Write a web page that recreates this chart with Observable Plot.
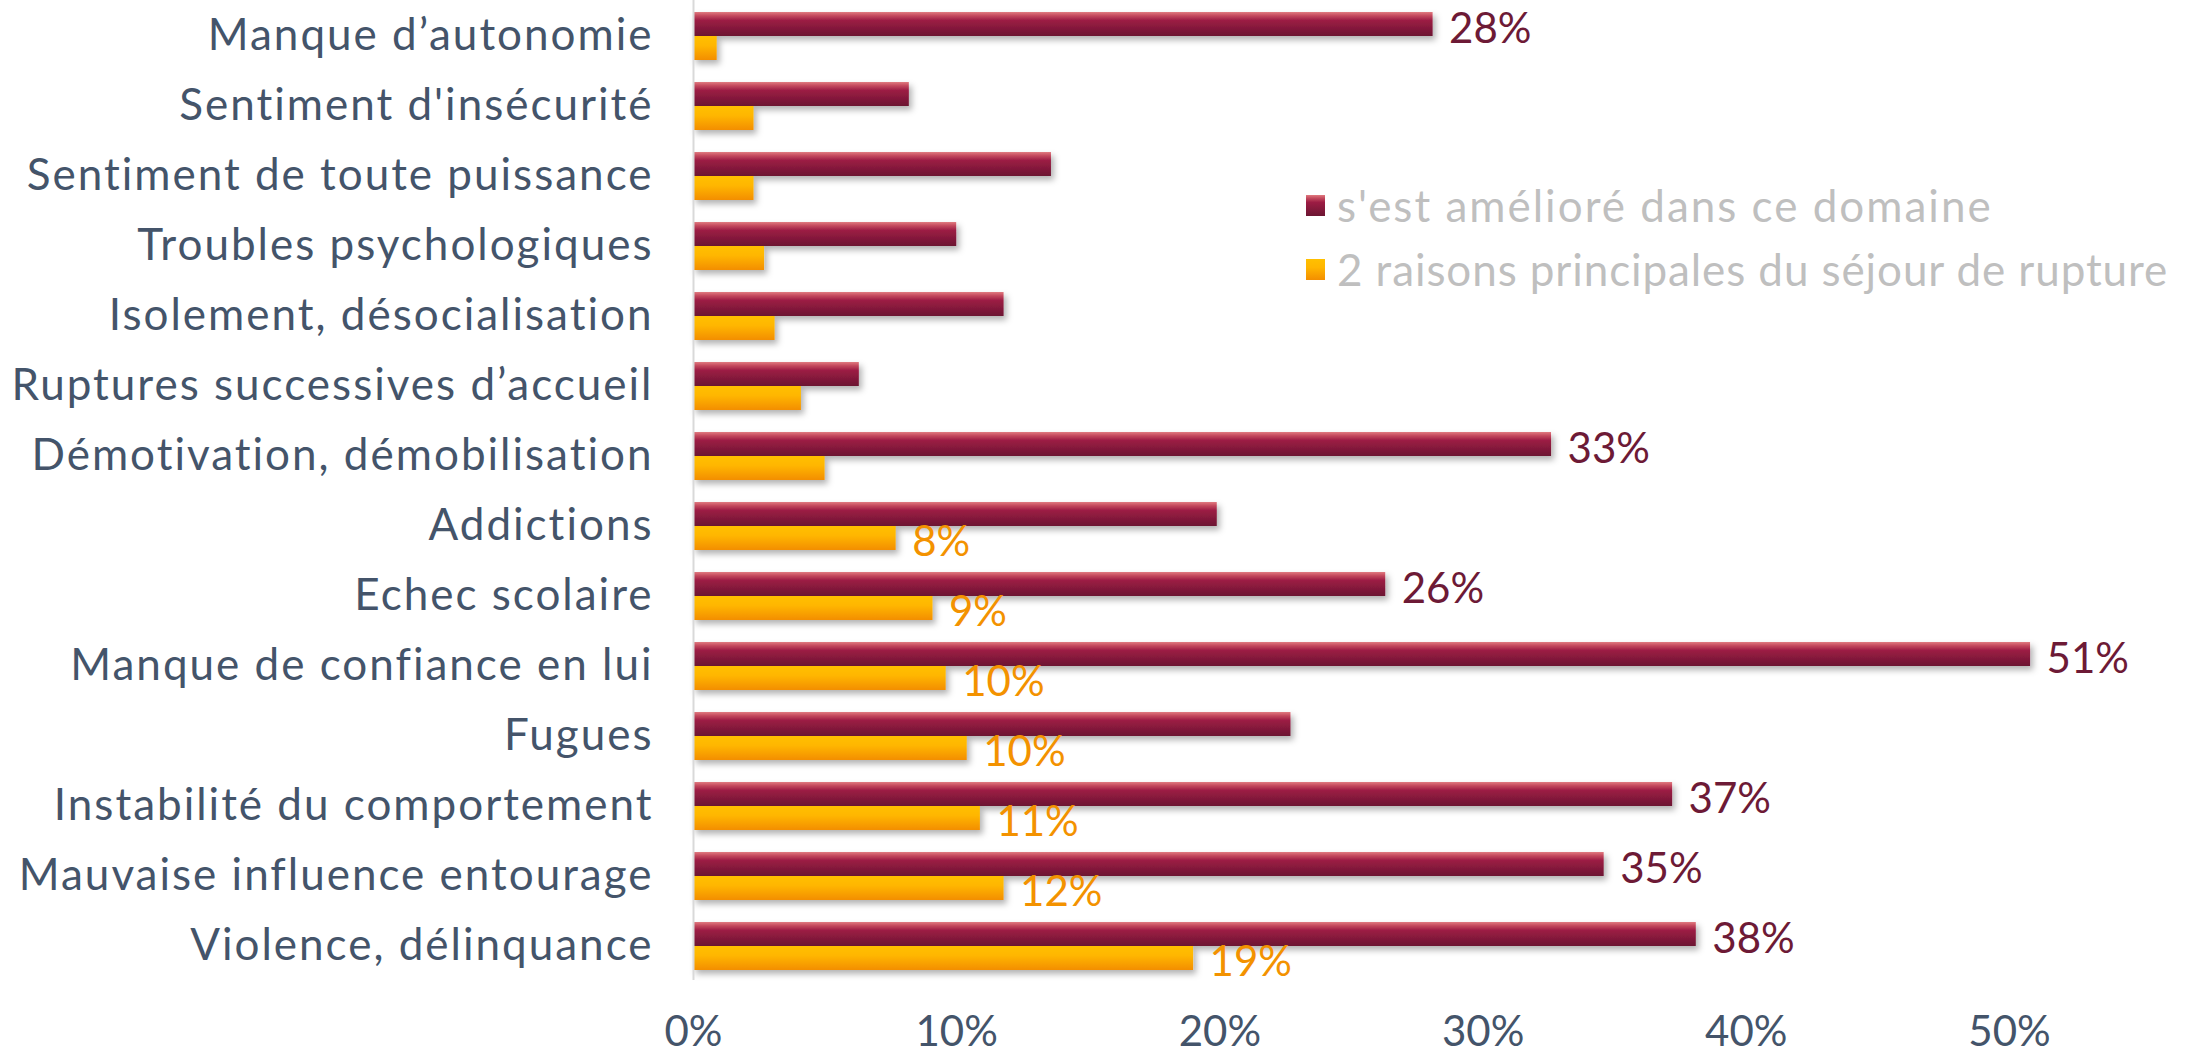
<!DOCTYPE html>
<html><head><meta charset="utf-8">
<script src="https://cdn.jsdelivr.net/npm/d3@7"></script>
<script src="https://cdn.jsdelivr.net/npm/@observablehq/plot@0.6"></script>
<style>
html,body{margin:0;padding:0;background:#fff;}
#wrap{position:relative;width:2201px;height:1055px;overflow:hidden;}
.legend{position:absolute;left:1306px;top:173px;font-family:Lato,"Noto Sans",sans-serif;font-size:44px;color:#bfbfbf;line-height:64px;}
.legend .item{display:flex;align-items:center;white-space:nowrap;}
.legend .item.s0{letter-spacing:2px;}
.legend .item.s1{letter-spacing:0.9px;}
.legend .sw{width:19px;height:21px;margin-right:12px;flex:none;}
</style></head><body>
<div id="wrap"></div>
<script>
const categories = [
  "Manque d\u2019autonomie",
  "Sentiment d'insécurité",
  "Sentiment de toute puissance",
  "Troubles psychologiques",
  "Isolement, désocialisation",
  "Ruptures successives d\u2019accueil",
  "Démotivation, démobilisation",
  "Addictions",
  "Echec scolaire",
  "Manque de confiance en lui",
  "Fugues",
  "Instabilité du comportement",
  "Mauvaise influence entourage",
  "Violence, délinquance"
];
const seriesNames = ["s'est amélioré dans ce domaine", "2 raisons principales du séjour de rupture"];
// values in percent
const ameliore = [28.1, 8.2, 13.6, 10.0, 11.8, 6.3, 32.6, 19.9, 26.3, 50.8, 22.7, 37.2, 34.6, 38.1];
const raisons  = [0.9, 2.3, 2.3, 2.7, 3.1, 4.1, 5.0, 7.7, 9.1, 9.6, 10.4, 10.9, 11.8, 19.0];
const amelioreLabels = ["28%", null, null, null, null, null, "33%", null, "26%", "51%", null, "37%", "35%", "38%"];
const raisonsLabels  = [null, null, null, null, null, null, null, "8%", "9%", "10%", "10%", "11%", "12%", "19%"];
const xTicks = [0, 0.1, 0.2, 0.3, 0.4, 0.5];

const redRows = categories.map((c, i) => ({category: c, value: ameliore[i] / 100, label: amelioreLabels[i]}));
const orangeRows = categories.map((c, i) => ({category: c, value: raisons[i] / 100, label: raisonsLabels[i]}));

const FONT = 'Lato, "Noto Sans", sans-serif';

const svg = Plot.plot({
  width: 2201,
  height: 1055,
  marginLeft: 693,
  marginRight: 192,
  marginTop: 0,
  marginBottom: 75,
  style: {fontFamily: FONT, fontSize: "42px", color: "#44546a", background: "#fff"},
  x: {domain: [0, 0.5], ticks: xTicks, tickFormat: d3.format(".0%"), tickSize: 0, tickPadding: 36, label: null},
  y: {domain: categories, padding: 0, tickSize: 0, tickPadding: 40, label: null},
  marks: [
    Plot.barX(redRows, {x: "value", y: "category", fill: "url(#gradRed)", insetTop: 12, insetBottom: 34}),
    Plot.barX(orangeRows, {x: "value", y: "category", fill: "url(#gradOrange)", insetTop: 36, insetBottom: 10}),
    Plot.ruleX([0], {stroke: "#d9d9d9", strokeWidth: 2}),
    Plot.text(redRows.filter(d => d.label), {x: "value", y: "category", text: "label", dx: 16, dy: -6, textAnchor: "start", fill: "#6d1a36", fontSize: 42}),
    Plot.text(orangeRows.filter(d => d.label), {x: "value", y: "category", text: "label", dx: 16, dy: 17, textAnchor: "start", fill: "#f39200", fontSize: 42})
  ]
});

const s = d3.select(svg);
const defs = s.insert("defs", ":first-child");
const gr = defs.append("linearGradient").attr("id", "gradRed").attr("x1", 0).attr("y1", 0).attr("x2", 0).attr("y2", 1);
[[0, "#e07a7f"], [0.15, "#c44a5e"], [0.35, "#9c1c44"], [1, "#6c1632"]].forEach(([o, c]) => gr.append("stop").attr("offset", o).attr("stop-color", c));
const go = defs.append("linearGradient").attr("id", "gradOrange").attr("x1", 0).attr("y1", 0).attr("x2", 0).attr("y2", 1);
[[0, "#ffc000"], [0.4, "#ffb600"], [1, "#f38e00"]].forEach(([o, c]) => go.append("stop").attr("offset", o).attr("stop-color", c));
const f = defs.append("filter").attr("id", "shadow").attr("x", "-5%").attr("y", "-50%").attr("width", "115%").attr("height", "250%");
f.append("feDropShadow").attr("dx", 3).attr("dy", 4).attr("stdDeviation", 3).attr("flood-color", "#000").attr("flood-opacity", 0.3);
s.selectAll("g[aria-label='bar']").attr("filter", "url(#shadow)");
s.selectAll("g[aria-label='y-axis tick label'] text").style("font-size", "44px").style("letter-spacing", "2px");

const wrap = document.getElementById("wrap");
wrap.appendChild(svg);

const legend = document.createElement("div");
legend.className = "legend";
const swatches = ["linear-gradient(#e07a7f 0%, #c44a5e 15%, #9c1c44 35%, #6c1632 100%)", "linear-gradient(#ffc000, #ffb600 40%, #f38e00)"];
seriesNames.forEach((name, i) => {
  const it = document.createElement("div");
  it.className = "item s" + i;
  const sw = document.createElement("span");
  sw.className = "sw";
  sw.style.background = swatches[i];
  const t = document.createElement("span");
  t.textContent = name;
  it.appendChild(sw); it.appendChild(t);
  legend.appendChild(it);
});
wrap.appendChild(legend);
</script>
</body></html>
